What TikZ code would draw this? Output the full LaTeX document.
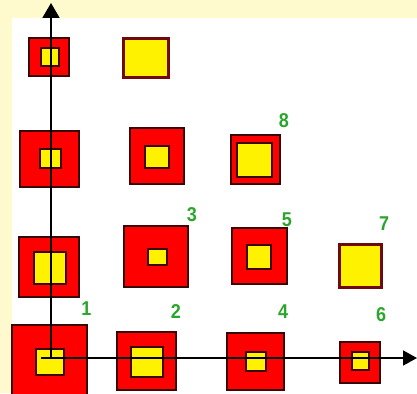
\documentclass[tikz,border=0pt]{standalone}
\usepackage{fontspec}
\setmainfont{Liberation Sans}
\usetikzlibrary{arrows.meta}
\definecolor{bgyel}{HTML}{FFFACD}
\definecolor{lblgreen}{HTML}{2BA52B}
\definecolor{darkrim}{HTML}{3A0505}
\definecolor{maroonrim}{HTML}{700A0A}
\tikzset{
  outsq/.style={draw=darkrim, line width=1.2pt, fill=red, inner sep=0pt, outer sep=0pt},
  insq/.style={draw=darkrim, line width=1.2pt, fill=yellow, inner sep=0pt, outer sep=0pt},
  hollowsq/.style={draw=maroonrim, line width=3pt, fill=yellow, inner sep=0pt, outer sep=0pt},
  lbl/.style={text=lblgreen, font=\fontsize{20}{20}\selectfont\bfseries, inner sep=0pt, xscale=0.9},
  axis/.style={line width=1.8pt, black}
}
\begin{document}
\begin{tikzpicture}[x=1pt,y=-1pt]
\useasboundingbox (0,0) rectangle (417,393);
\fill[bgyel] (0,0) rectangle (417,393);
\fill[white] (12,18) rectangle (417,393);
\begin{scope}
\clip (0,0) rectangle (417,393);
% top row
\node[outsq, minimum width=40pt, minimum height=38pt] (A) at (49,57) {};
\node[insq, minimum width=18pt, minimum height=18pt] (Ai) at (50,57) {};
\node[hollowsq, minimum width=45pt, minimum height=39pt] (B) at (146,58) {};
% second row
\node[outsq, minimum width=59pt, minimum height=56pt] (C) at (49.5,159) {};
\node[insq, minimum width=21pt, minimum height=19pt] (Ci) at (50.5,158.5) {};
\node[outsq, minimum width=54pt, minimum height=56pt] (D) at (157,156) {};
\node[insq, minimum width=24pt, minimum height=22pt] (Di) at (157,157) {};
\node[outsq, minimum width=49pt, minimum height=49pt] (E) at (255.5,159.5) {};
\node[insq, minimum width=35pt, minimum height=34pt] (Ei) at (254.5,160) {};
% third row
\node[outsq, minimum width=60pt, minimum height=60pt] (F) at (49,267) {};
\node[insq, minimum width=32pt, minimum height=32pt] (Fi) at (50,268) {};
\node[outsq, minimum width=64pt, minimum height=61pt] (G) at (156,256.5) {};
\node[insq, minimum width=19pt, minimum height=16pt] (Gi) at (157.5,257) {};
\node[outsq, minimum width=55pt, minimum height=56pt] (H) at (259.5,256) {};
\node[insq, minimum width=24pt, minimum height=24pt] (Hi) at (259,257) {};
\node[hollowsq, minimum width=42pt, minimum height=43pt] (I) at (360.5,266) {};
% bottom row
\node[outsq, minimum width=75pt, minimum height=77pt] (J) at (49.5,363.5) {};
\node[insq, minimum width=28pt, minimum height=26pt] (Ji) at (50,362) {};
\node[outsq, minimum width=59pt, minimum height=58pt] (K) at (146.5,361) {};
\node[insq, minimum width=32pt, minimum height=30pt] (Ki) at (147,362) {};
\node[outsq, minimum width=57pt, minimum height=57pt] (L) at (255.5,361.5) {};
\node[insq, minimum width=20pt, minimum height=19pt] (Li) at (256,361.5) {};
\node[outsq, minimum width=40pt, minimum height=41pt] (M) at (360,362.5) {};
\node[insq, minimum width=17pt, minimum height=18pt] (Mi) at (360.5,361) {};
\end{scope}
% labels
\node[lbl] (l1) at (86.5,309) {1};
\node[lbl] (l2) at (176,312) {2};
\node[lbl] (l3) at (192,215) {3};
\node[lbl] (l4) at (283,312) {4};
\node[lbl] (l5) at (287,220) {5};
\node[lbl] (l6) at (381,315) {6};
\node[lbl] (l7) at (384,224) {7};
\node[lbl] (l8) at (284,121) {8};
% axes
\coordinate (ybase) at (51,359);
\coordinate (ytip) at (51,3);
\coordinate (xbase) at (41,358);
\coordinate (xtip) at (417,358);
\draw[axis, -{Triangle[length=15pt,width=17pt]}] (ybase) -- (ytip);
\draw[axis, -{Triangle[length=14pt,width=15pt]}] (xbase) -- (xtip);
\end{tikzpicture}
\end{document}
